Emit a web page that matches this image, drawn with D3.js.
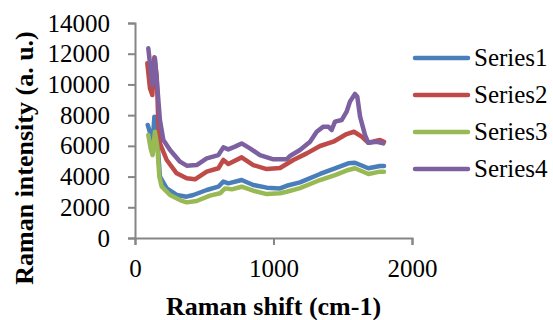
<!DOCTYPE html>
<html>
<head>
<meta charset="utf-8">
<script src="https://cdn.jsdelivr.net/npm/d3@7"></script>
<style>
  body { margin: 0; background: #fff; }
  svg text { font-family: "Liberation Serif", "Times New Roman", serif; fill: #000; }
</style>
</head>
<body>
<div id="chart"></div>
<script>
// [raman shift, intensity]
var series1 = [[92,7360],[113,6710],[127,6160],[140,7900],[157,7030],[168,5510],[180,3990],[229,3230],[301,2800],[373,2690],[421,2800],[518,3125],[602,3340],[638,3670],[674,3560],[770,3775],[854,3450],[951,3280],[1047,3230],[1095,3400],[1191,3620],[1336,4170],[1444,4540],[1540,4860],[1588,4900],[1685,4540],[1769,4690],[1798,4690]];
var series2 = [[89,11375],[108,9750],[125,9310],[140,11770],[157,10500],[168,7680],[180,6160],[229,5080],[301,4210],[373,3890],[433,3820],[518,4320],[602,4540],[638,5080],[674,4820],[770,5250],[854,4750],[951,4490],[1047,4560],[1143,5080],[1240,5510],[1336,5990],[1432,6270],[1528,6770],[1581,6920],[1637,6600],[1685,6200],[1769,6380],[1798,6270]];
var series3 = [[96,6710],[113,5840],[127,5400],[144,6920],[161,5950],[176,3990],[193,3340],[253,2800],[325,2470],[373,2320],[445,2410],[541,2760],[614,2910],[650,3230],[698,3170],[770,3340],[854,3080],[951,2860],[1047,2910],[1095,3010],[1191,3250],[1336,3775],[1444,4100],[1540,4430],[1588,4540],[1685,4170],[1769,4320],[1798,4320]];
var series4 = [[96,12350],[108,11375],[125,9960],[144,11700],[161,9850],[180,7680],[205,6380],[253,5730],[325,4970],[373,4710],[445,4750],[518,5190],[602,5400],[638,5900],[674,5770],[722,5950],[770,6160],[830,5840],[902,5400],[999,5120],[1047,5120],[1095,5120],[1119,5340],[1191,5730],[1264,6270],[1312,6920],[1360,7250],[1396,7250],[1420,7030],[1444,7575],[1492,7680],[1528,8225],[1552,8880],[1588,9380],[1605,9200],[1625,7900],[1661,6700],[1685,6200],[1745,6270],[1793,6160]];

var seriesNames = ["Series1", "Series2", "Series3", "Series4"];
var seriesColors = ["#4a7ebb", "#be4b48", "#98b954", "#7d60a0"];
var xTicks = [0, 1000, 2000];
var yTicks = [0, 2000, 4000, 6000, 8000, 10000, 12000, 14000];

var W = 553, H = 320;
var margin = { top: 23, right: 141, bottom: 82, left: 135 };

var svg = d3.select("#chart").append("svg")
  .attr("width", W)
  .attr("height", H);

var x = d3.scaleLinear().domain([0, 2000]).range([margin.left, W - margin.right]);
var y = d3.scaleLinear().domain([0, 14000]).range([H - margin.bottom, margin.top]);

var axisColor = "#868686";

// y axis
var gy = svg.append("g")
  .attr("transform", "translate(" + margin.left + ",0)")
  .call(d3.axisLeft(y).tickValues(yTicks).tickSize(7).tickPadding(18).tickFormat(d3.format("d")));
gy.selectAll("text").style("font-size", "25px");

// x axis
var gx = svg.append("g")
  .attr("transform", "translate(0," + (H - margin.bottom) + ")")
  .call(d3.axisBottom(x).tickValues(xTicks).tickSize(7).tickPadding(14).tickFormat(d3.format("d")));
gx.selectAll("text").style("font-size", "25px");

svg.selectAll(".domain").attr("stroke", axisColor).attr("stroke-width", 2);
svg.selectAll(".tick line").attr("stroke", axisColor).attr("stroke-width", 2);

var line = d3.line()
  .x(function(d) { return x(d[0]); })
  .y(function(d) { return y(d[1]); });

var allSeries = [series1, series2, series3, series4];
allSeries.forEach(function(s, i) {
  svg.append("path")
    .datum(s)
    .attr("fill", "none")
    .attr("stroke", seriesColors[i])
    .attr("stroke-width", 4.5)
    .attr("stroke-linejoin", "round")
    .attr("stroke-linecap", "round")
    .attr("d", line);
});

// legend
var legend = svg.selectAll(".legend")
  .data(seriesNames)
  .enter().append("g")
    .attr("class", "legend")
    .attr("transform", function(d, i) { return "translate(415," + (58 + i * 37) + ")"; });

legend.append("line")
  .attr("x1", 0).attr("x2", 53)
  .attr("stroke", function(d, i) { return seriesColors[i]; })
  .attr("stroke-width", 4.5)
  .attr("stroke-linecap", "round");

legend.append("text")
  .attr("x", 59)
  .attr("dy", "0.33em")
  .style("font-size", "25px")
  .text(function(d) { return d; });

// axis titles
svg.append("text")
  .attr("transform", "translate(33,158) rotate(-90)")
  .attr("text-anchor", "middle")
  .style("font-size", "26px")
  .style("font-weight", "bold")
  .text("Raman intensity (a. u.)");

svg.append("text")
  .attr("x", x(1000))
  .attr("y", 315)
  .attr("text-anchor", "middle")
  .style("font-size", "26px")
  .style("font-weight", "bold")
  .text("Raman shift (cm-1)");
</script>
</body>
</html>
